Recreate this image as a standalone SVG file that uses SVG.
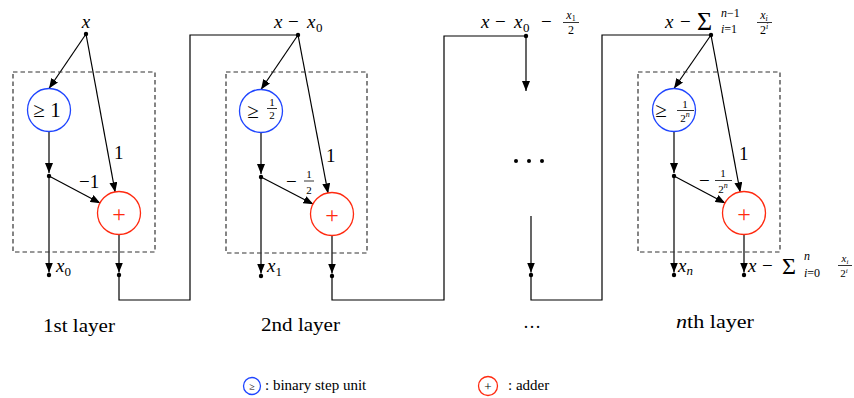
<svg xmlns="http://www.w3.org/2000/svg" width="854" height="398" viewBox="0 0 854 398" font-family="'Liberation Serif', 'Times New Roman', Times, 'DejaVu Serif', serif">
<defs>
<marker id="ah" viewBox="0 0 10 8" refX="10" refY="4" markerWidth="10" markerHeight="8" markerUnits="userSpaceOnUse" orient="auto">
<path d="M0,0 L10,4 L0,8 Z" fill="#000"/>
</marker>
</defs>
<style>
text{font-family:'Liberation Serif','Times New Roman',Times,'DejaVu Serif',serif;fill:#000}
.i{font-style:italic}
.box{fill:none;stroke:#333;stroke-width:1.2;stroke-dasharray:4.5,3}
.bsu{fill:#fff;stroke:#1f45ff;stroke-width:1.3}
.add{fill:#fff;stroke:#ff2a10;stroke-width:1.3}
.plus{fill:#ff2a10;font-size:24px;text-anchor:middle}
.ln{fill:none;stroke:#000;stroke-width:1.2}
.ar{fill:none;stroke:#000;stroke-width:1.2;marker-end:url(#ah)}
.dot{fill:#000}
.fb{stroke:#000;stroke-width:0.8}
.lbl{font-size:19px}
.sm{font-size:11px}
.lay{font-size:18px}
</style>
<rect width="854" height="398" fill="#fff"/>

<g id="connectors">
<line class="ar" x1="86" y1="34" x2="49" y2="88.5"/>
<line class="ar" x1="86" y1="34" x2="115.2" y2="192.3"/>
<line class="ar" x1="49" y1="131.5" x2="49" y2="173"/>
<line class="ar" x1="49" y1="176" x2="100.4" y2="203.2"/>
<line class="ar" x1="49" y1="176" x2="49" y2="272.5"/>
<line class="ar" x1="119" y1="234.5" x2="119" y2="272.5"/>
<polyline class="ln" points="119,275 119,300 190,300 190,35 298,35"/>
<line class="ar" x1="298" y1="35" x2="261" y2="89.5"/>
<line class="ar" x1="298" y1="35" x2="328.1" y2="193.4"/>
<line class="ar" x1="261" y1="132.5" x2="261" y2="174"/>
<line class="ar" x1="261" y1="177" x2="313.4" y2="204.3"/>
<line class="ar" x1="261" y1="177" x2="261" y2="273.5"/>
<line class="ar" x1="332" y1="235.5" x2="332" y2="273.5"/>
<polyline class="ln" points="332,276 332,300 444,300 444,36 526,36"/>
<line class="ar" x1="526" y1="36" x2="526" y2="91"/>
<line class="ar" x1="531" y1="216" x2="531" y2="272.5"/>
<polyline class="ln" points="531,275 531,300 602,300 602,35 711,35"/>
<line class="ar" x1="711" y1="35" x2="674" y2="88.5"/>
<line class="ar" x1="711" y1="35" x2="740.2" y2="192.3"/>
<line class="ar" x1="674" y1="131.5" x2="674" y2="173"/>
<line class="ar" x1="674" y1="176" x2="725.4" y2="203.2"/>
<line class="ar" x1="674" y1="176" x2="674" y2="272.5"/>
<line class="ar" x1="744" y1="234.5" x2="744" y2="272.5"/>
</g>

<g id="layer1">
<rect class="box" x="13" y="72" width="142" height="180"/>
<text class="lbl i" x="86" y="28" text-anchor="middle">x</text>
<circle class="dot" cx="86" cy="34" r="2.2"/>
<g id="bsu1">
<circle class="bsu" cx="49" cy="110" r="21.5"/>
<text x="47" y="117" font-size="21" text-anchor="middle">≥ 1</text>
</g>
<g id="add1">
<circle class="add" cx="119" cy="213" r="21.5"/>
<text class="plus" x="119" y="221.5">+</text>
</g>
<circle class="dot" cx="49" cy="176" r="2.2"/>
<circle class="dot" cx="49" cy="275" r="2.2"/>
<circle class="dot" cx="119" cy="275" r="2.2"/>
<text class="lbl" x="114" y="159">1</text>
<text class="lbl" x="79" y="188">−1</text>
<text class="lbl" x="56" y="272"><tspan class="i">x</tspan><tspan font-size="13" dy="4">0</tspan></text>
<text class="lay" x="43" y="332" textLength="72" lengthAdjust="spacingAndGlyphs">1st layer</text>
</g>

<g id="layer2">
<rect class="box" x="226" y="72" width="141" height="181"/>
<text class="lbl" y="28"><tspan class="i" x="274">x</tspan><tspan x="288">−</tspan><tspan class="i" x="307">x</tspan><tspan font-size="13" x="316" dy="4">0</tspan></text>
<circle class="dot" cx="298" cy="35" r="2.2"/>
<g id="bsu2">
<circle class="bsu" cx="261" cy="111" r="21.5"/>
<text x="253" y="118" font-size="21" text-anchor="middle">≥</text>
<text class="sm" x="272" y="105.5" text-anchor="middle">1</text>
<line class="fb" x1="267" y1="108.5" x2="277" y2="108.5"/>
<text class="sm" x="272" y="119" text-anchor="middle">2</text>
</g>
<g id="add2">
<circle class="add" cx="332" cy="214" r="21.5"/>
<text class="plus" x="332" y="222.5">+</text>
</g>
<circle class="dot" cx="261" cy="177" r="2.2"/>
<circle class="dot" cx="261" cy="276" r="2.2"/>
<circle class="dot" cx="332" cy="276" r="2.2"/>
<text class="lbl" x="326" y="162">1</text>
<text class="lbl" x="286" y="188">−</text>
<text class="sm" x="309" y="177.5" text-anchor="middle">1</text>
<line class="fb" x1="304" y1="181" x2="314" y2="181"/>
<text class="sm" x="309" y="194" text-anchor="middle">2</text>
<text class="lbl" x="267" y="272"><tspan class="i">x</tspan><tspan font-size="13" dy="4">1</tspan></text>
<text class="lay" x="261" y="331" textLength="79" lengthAdjust="spacingAndGlyphs">2nd layer</text>
</g>

<g id="layer3">
<text class="lbl" y="28"><tspan class="i" x="481">x</tspan><tspan x="495">−</tspan><tspan class="i" x="514">x</tspan><tspan font-size="13" x="523" dy="4">0</tspan><tspan x="541" dy="-4">−</tspan></text>
<text x="571" y="19" font-size="12" text-anchor="middle"><tspan class="i">x</tspan><tspan font-size="8" dy="2">1</tspan></text>
<line class="fb" x1="563" y1="22.5" x2="579" y2="22.5"/>
<text x="571" y="34" font-size="12" text-anchor="middle">2</text>
<circle class="dot" cx="526" cy="36" r="2.2"/>
<circle class="dot" cx="516" cy="161" r="2"/>
<circle class="dot" cx="529" cy="161" r="2"/>
<circle class="dot" cx="542" cy="161" r="2"/>
<circle class="dot" cx="531" cy="275" r="2.2"/>
<text x="532" y="328" font-size="18" text-anchor="middle">…</text>
</g>

<g id="layern">
<rect class="box" x="638" y="72" width="142" height="180"/>
<text class="lbl" y="28"><tspan class="i" x="665">x</tspan><tspan x="680">−</tspan></text>
<text x="697" y="30" font-size="26">Σ</text>
<text x="721" y="17" font-size="12"><tspan class="i">n</tspan>−1</text>
<text x="721" y="33" font-size="12"><tspan class="i">i</tspan>=1</text>
<text x="764" y="19" font-size="12" text-anchor="middle"><tspan class="i">x</tspan><tspan class="i" font-size="8" dy="2">i</tspan></text>
<line class="fb" x1="757" y1="22.5" x2="772" y2="22.5"/>
<text x="764" y="34" font-size="12" text-anchor="middle">2<tspan class="i" font-size="8" dy="-5">i</tspan></text>
<circle class="dot" cx="711" cy="35" r="2.2"/>
<g id="bsun">
<circle class="bsu" cx="674" cy="110" r="21.5"/>
<text x="661" y="117" font-size="21" text-anchor="middle">≥</text>
<text class="sm" x="685" y="107.5" text-anchor="middle">1</text>
<line class="fb" x1="677" y1="110.5" x2="694" y2="110.5"/>
<text class="sm" x="685" y="122" text-anchor="middle">2<tspan class="i" font-size="8" dy="-5">n</tspan></text>
</g>
<g id="addn">
<circle class="add" cx="744" cy="213" r="21.5"/>
<text class="plus" x="744" y="221.5">+</text>
</g>
<circle class="dot" cx="674" cy="176" r="2.2"/>
<circle class="dot" cx="674" cy="275" r="2.2"/>
<circle class="dot" cx="744" cy="275" r="2.2"/>
<text class="lbl" x="739" y="160">1</text>
<text class="lbl" x="699" y="187">−</text>
<text class="sm" x="723" y="177" text-anchor="middle">1</text>
<line class="fb" x1="715" y1="180.5" x2="732" y2="180.5"/>
<text class="sm" x="723" y="193" text-anchor="middle">2<tspan class="i" font-size="8" dy="-5">n</tspan></text>
<text class="lbl" x="678" y="272"><tspan class="i">x</tspan><tspan class="i" font-size="13" dy="3">n</tspan></text>
<text class="lbl" y="272"><tspan class="i" x="748">x</tspan><tspan x="762">−</tspan></text>
<text x="782" y="274" font-size="24">Σ</text>
<text x="804" y="260" font-size="12" class="i">n</text>
<text x="804" y="277" font-size="12"><tspan class="i">i</tspan>=0</text>
<text x="845" y="262" font-size="11" text-anchor="middle"><tspan class="i">x</tspan><tspan class="i" font-size="7" dy="2">i</tspan></text>
<line class="fb" x1="838" y1="265.5" x2="852" y2="265.5"/>
<text x="844" y="277" font-size="11" text-anchor="middle">2<tspan class="i" font-size="7" dy="-4">i</tspan></text>
<text class="lay" x="676" y="328" textLength="78" lengthAdjust="spacingAndGlyphs"><tspan class="i">n</tspan>th layer</text>
</g>

<g id="legend">
<circle class="bsu" cx="252" cy="386" r="8.5"/>
<text x="252" y="390" font-size="10" text-anchor="middle" fill="#444">≥</text>
<text x="265" y="390" font-size="15">:  binary step unit</text>
<circle class="add" cx="488" cy="386" r="9.5"/>
<text x="488" y="391" font-size="13" text-anchor="middle" fill="#ff2a10">+</text>
<text x="508" y="390" font-size="15">:  adder</text>
</g>
</svg>
